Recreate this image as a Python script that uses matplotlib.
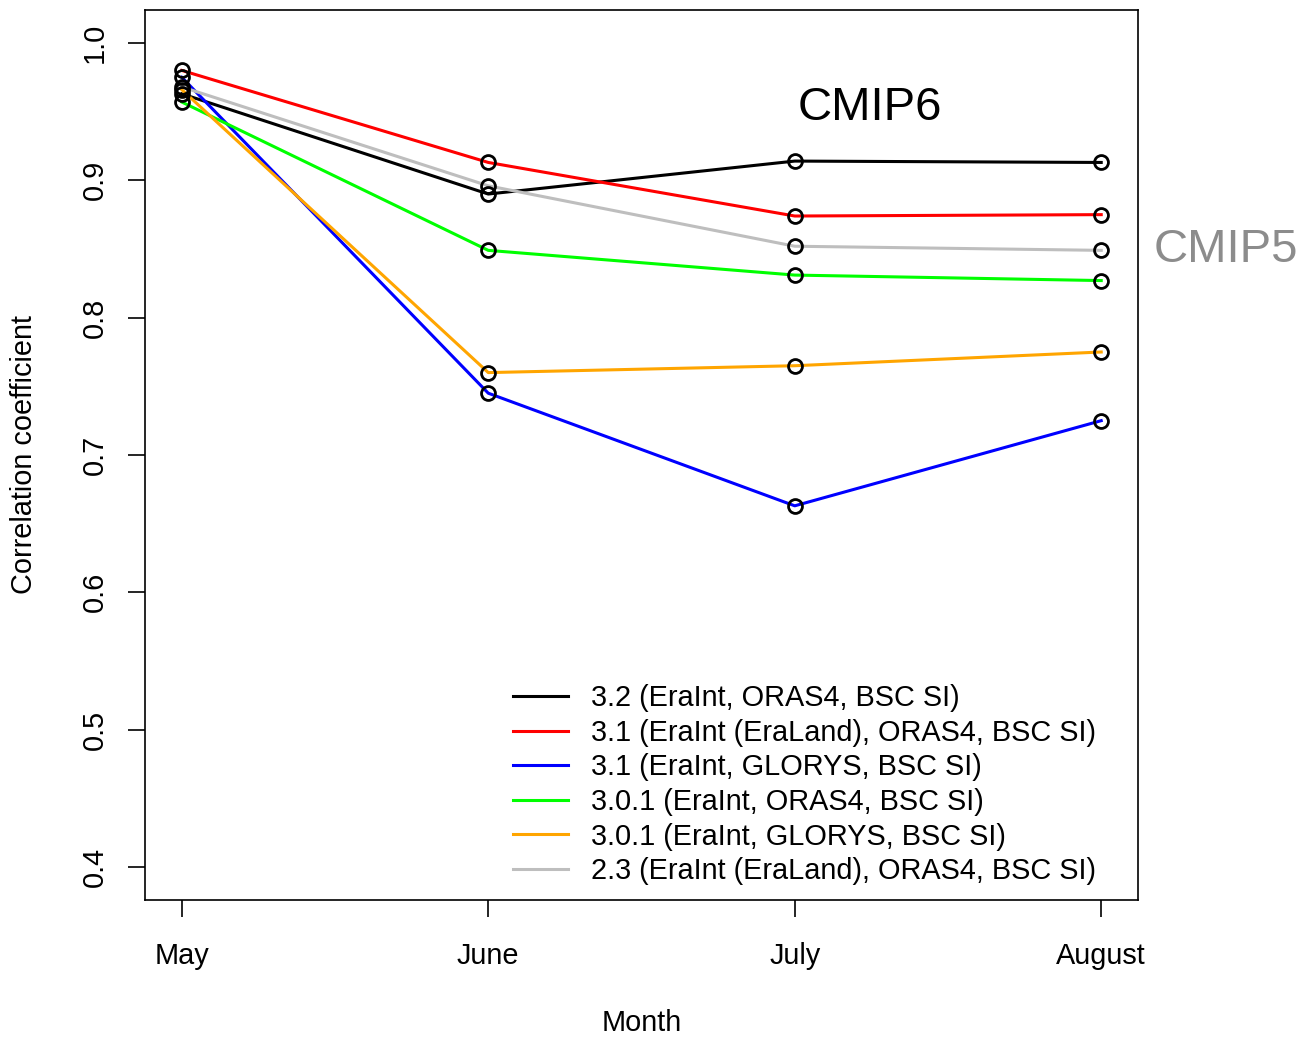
import matplotlib
matplotlib.use("Agg")
from matplotlib import pyplot as plt

plt.rcParams["font.family"] = ["Liberation Sans", "DejaVu Sans"]

months = ["May", "June", "July", "August"]
month_pos = [1, 2, 3, 4]

labels = [
    "3.2 (EraInt, ORAS4, BSC SI)",
    "3.1 (EraInt (EraLand), ORAS4, BSC SI)",
    "3.1 (EraInt, GLORYS, BSC SI)",
    "3.0.1 (EraInt, ORAS4, BSC SI)",
    "3.0.1 (EraInt, GLORYS, BSC SI)",
    "2.3 (EraInt (EraLand), ORAS4, BSC SI)",
]
colors = ["#000000", "#ff0000", "#0000ff", "#00ff00", "#ffa500", "#bebebe"]

v32_oras4 = [0.963, 0.890, 0.914, 0.913]
v31_eraland = [0.980, 0.913, 0.874, 0.875]
v31_glorys = [0.975, 0.745, 0.663, 0.725]
v301_oras4 = [0.957, 0.849, 0.831, 0.827]
v301_glorys = [0.966, 0.760, 0.765, 0.775]
v23_eraland = [0.968, 0.896, 0.852, 0.849]

series = [v32_oras4, v31_eraland, v31_glorys, v301_oras4, v301_glorys, v23_eraland]

FS = 20.8
W, H = 1301, 1037
fig = plt.figure(figsize=(W / 100, H / 100), dpi=100)
ax = fig.add_axes([145 / W, 1 - 900 / H, (1138 - 145) / W, (900 - 10) / H])

for vals, col, lab in zip(series, colors, labels):
    ax.plot(month_pos, vals, color=col, lw=2.2, label=lab, zorder=2)
for vals in series:
    ax.plot(month_pos, vals, "o", ms=10, mfc="none", mec="black", mew=2.0, zorder=3)

ax.set_xlim(0.88, 4.12)
ax.set_ylim(0.376, 1.024)
ax.set_xticks(month_pos)
ax.set_xticklabels(months)
ax.set_yticks([0.4, 0.5, 0.6, 0.7, 0.8, 0.9, 1.0])
ax.set_yticklabels(["0.4", "0.5", "0.6", "0.7", "0.8", "0.9", "1.0"])
ax.tick_params(axis="both", labelsize=FS, length=12, width=1.2, direction="out")
ax.tick_params(axis="x", pad=18)
ax.tick_params(axis="y", pad=14, labelrotation=90)
for lbl in ax.get_yticklabels():
    lbl.set_va("center")
for sp in ax.spines.values():
    sp.set_linewidth(1.2)

fig.text(24 / W, 1 - 455 / H, "Correlation coefficient", rotation=90,
         ha="center", va="center", fontsize=FS)
fig.text(642 / W, 1 - 1023 / H, "Month", ha="center", va="center", fontsize=FS)

fig.text(870 / W, 1 - 108 / H, "CMIP6", ha="center", va="center",
         fontsize=34, color="black")
fig.text(1226 / W, 1 - 250 / H, "CMIP5", ha="center", va="center",
         fontsize=34, color="#8c8c8c")

ax.legend(loc="upper left", bbox_to_anchor=(513 / W, 1 - 684 / H),
          bbox_transform=fig.transFigure, frameon=False, fontsize=FS,
          handlelength=1.9, handletextpad=0.8, labelspacing=0.23,
          borderpad=0, borderaxespad=0)

fig.savefig("out.png", dpi=100)
